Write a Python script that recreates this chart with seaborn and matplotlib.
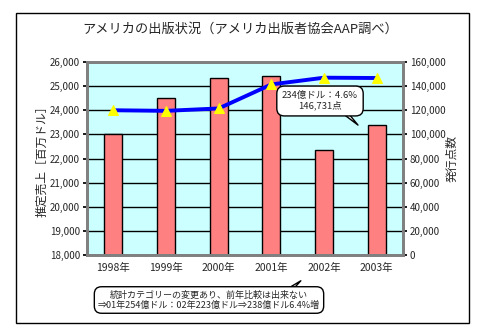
import numpy as np
import pandas as pd
import matplotlib
matplotlib.use("Agg")
import matplotlib.pyplot as plt
from matplotlib.patches import Rectangle
from matplotlib.ticker import FuncFormatter
import seaborn as sns

years = ["1998年", "1999年", "2000年", "2001年", "2002年", "2003年"]
sales = [23030, 24490, 25320, 25400, 22360, 23400]          # 推定売上 (百万ドル)
titles = [120000, 119500, 121500, 141400, 147000, 146731]   # 発行点数
left_ticks = [18000, 19000, 20000, 21000, 22000, 23000, 24000, 25000, 26000]
right_ticks = [0, 20000, 40000, 60000, 80000, 100000, 120000, 140000, 160000]

sns.set_theme(style="white")
plt.rcParams['font.family'] = ['Noto Sans CJK JP', 'DejaVu Sans']

W, H = 488, 335
fig = plt.figure(figsize=(W / 100, H / 100), dpi=100)
fig.patch.set_facecolor("white")
ax = fig.add_axes([87 / W, 1 - 255 / H, 316 / W, 193 / H])
ax.set_facecolor("#CCFFFF")

df = pd.DataFrame({"year": years, "sales": sales})
sns.barplot(data=df, x="year", y="sales", ax=ax, color="#FF8080",
            saturation=1, width=0.34, edgecolor="black", linewidth=1, zorder=2)
ax.set_ylim(18000, 26000)
ax.set_yticks(left_ticks)
ax.yaxis.set_major_formatter(FuncFormatter(lambda v, p: f"{int(v):,}"))
ax.set_xlim(-0.5, 5.5)
ax.grid(axis="y", color="black", linewidth=1, zorder=1)
ax.set_axisbelow(True)
ax.set_xlabel("")
ax.set_ylabel("推定売上［百万ドル］", fontsize=8.5, labelpad=1)
ax.tick_params(axis="y", labelsize=7, length=3, pad=2, left=True, color="black")
ax.tick_params(axis="x", labelsize=7.5, length=0, pad=6)
for s in ax.spines.values():
    s.set_color("#808080")
    s.set_linewidth(2)

ax2 = ax.twinx()
sns.lineplot(x=np.arange(len(years)), y=titles, ax=ax2, color="#0000FF",
             linewidth=2.8, marker="^", markersize=6.5, markerfacecolor="#FFFF00",
             markeredgecolor="#FFFF00", zorder=5)
ax2.set_ylim(0, 160000)
ax2.set_yticks(right_ticks)
ax2.yaxis.set_major_formatter(FuncFormatter(lambda v, p: f"{int(v):,}"))
ax2.tick_params(axis="y", labelsize=7, length=3, pad=2, right=True, color="black")
ax2.set_ylabel("発行点数", fontsize=8.5, labelpad=0)
ax2.patch.set_visible(False)
for s in ax2.spines.values():
    s.set_color("#808080")
    s.set_linewidth(2)
ax2.set_xlim(-0.5, 5.5)

fig.text(240 / W, 1 - 29 / H, "アメリカの出版状況（アメリカ出版者協会AAP調べ）",
         ha="center", va="center", fontsize=9.5)

ax2.annotate("234億ドル：4.6%\n146,731点", xy=(360, H - 127), xycoords="figure pixels",
             xytext=(320, H - 101), textcoords="figure pixels",
             ha="center", va="center", fontsize=6.8, linespacing=1.1, zorder=10,
             bbox=dict(boxstyle="round,pad=0.55,rounding_size=0.8", fc="white", ec="black", lw=1),
             arrowprops=dict(arrowstyle="wedge,tail_width=0.6", fc="white", ec="black",
                             lw=1, patchA=None, relpos=(0.75, 0.2)))

ax.annotate("統計カテゴリーの変更あり、前年比較は出来ない\n⇒01年254億ドル：02年223億ドル⇒238億ドル6.4%増",
            xy=(303, H - 279), xycoords="figure pixels",
            xytext=(209, H - 300), textcoords="figure pixels",
            ha="center", va="center", fontsize=6.5, linespacing=1.15,
            annotation_clip=False, zorder=10,
            bbox=dict(boxstyle="round,pad=0.4,rounding_size=0.8", fc="white", ec="black", lw=1),
            arrowprops=dict(arrowstyle="wedge,tail_width=0.5", fc="white", ec="black",
                            lw=1, patchA=None, relpos=(0.85, 0.9)))

fig.patches.append(Rectangle((16 / W, 12 / H), (469 - 16) / W, 310 / H,
                             transform=fig.transFigure, fill=False,
                             ec="black", lw=1))

fig.savefig("out.png", dpi=100)
